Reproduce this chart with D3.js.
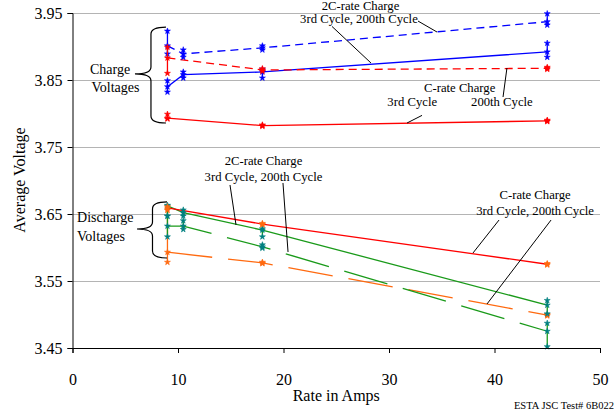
<!DOCTYPE html>
<html>
<head>
<meta charset="utf-8">
<script src="https://cdn.jsdelivr.net/npm/d3@7"></script>
<style>
  body { margin: 0; background: #fff; }
  svg { display: block; font-family: "Liberation Serif", "Times New Roman", Times, "DejaVu Serif", serif; }
</style>
</head>
<body>
<div id="chart"></div>
<script>
// rates (amps) used in the test
var rates2C = [9, 10.5, 18, 45];
var ratesC = [9, 18, 45];

// charge voltages: mean, low, high
var charge2C200 = [3.901, 3.889, 3.898, 3.937];
var charge2C200Lo = [3.889, 3.884, 3.895, 3.932];
var charge2C200Hi = [3.923, 3.895, 3.901, 3.949];

var charge2C3 = [3.840, 3.858, 3.862, 3.892];
var charge2C3Lo = [3.832, 3.853, 3.853, 3.884];
var charge2C3Hi = [3.849, 3.862, 3.866, 3.905];

var chargeC200 = [3.883, 3.865, 3.8675];
var chargeC200Lo = [3.860, 3.863, 3.866];
var chargeC200Hi = [3.899, 3.867, 3.869];

var chargeC3 = [3.793, 3.782, 3.789];
var chargeC3Lo = [3.792, 3.781, 3.788];
var chargeC3Hi = [3.799, 3.783, 3.790];

// discharge voltages: mean, low, high
var dis2C3 = [3.662, 3.652, 3.626, 3.514];
var dis2C3Lo = [3.647, 3.647, 3.616, 3.501];
var dis2C3Hi = [3.663, 3.656, 3.628, 3.521];

var dis2C200 = [3.632, 3.632, 3.601, 3.475];
var dis2C200Lo = [3.616, 3.627, 3.599, 3.452];
var dis2C200Hi = [3.647, 3.640, 3.604, 3.487];

var disC3 = [3.659, 3.635, 3.575];
var disC3Lo = [3.656, 3.634, 3.574];
var disC3Hi = [3.661, 3.636, 3.576];

var disC200 = [3.593, 3.577, 3.499];
var disC200Lo = [3.578, 3.576, 3.498];
var disC200Hi = [3.656, 3.578, 3.500];

// axis ticks
var xTicks = [0, 10, 20, 30, 40, 50];
var yTicks = [3.45, 3.55, 3.65, 3.75, 3.85, 3.95];

// callout texts and leader lines, in data units (amps, volts)
var labels = [
  { t: "2C-rate Charge", x: 27.3, y: 3.9545, a: "middle" },
  { t: "3rd Cycle, 200th Cycle", x: 27.15, y: 3.935, a: "middle" },
  { t: "C-rate Charge", x: 36.7, y: 3.832, a: "middle" },
  { t: "3rd Cycle", x: 32.2, y: 3.811, a: "middle" },
  { t: "200th Cycle", x: 40.7, y: 3.811, a: "middle" },
  { t: "2C-rate Charge", x: 18.1, y: 3.723, a: "middle" },
  { t: "3rd Cycle, 200th Cycle", x: 18.1, y: 3.699, a: "middle" },
  { t: "C-rate Charge", x: 43.85, y: 3.672, a: "middle" },
  { t: "3rd Cycle, 200th Cycle", x: 43.85, y: 3.6485, a: "middle" }
];
var groupLabels = [
  { t: "Charge", x: 1.66, y: 3.859 },
  { t: "Voltages", x: 1.8, y: 3.832 },
  { t: "Discharge", x: 0.43, y: 3.638 },
  { t: "Voltages", x: 0.43, y: 3.61 }
];
var leaders = [
  [32.75, 3.938, 34.55, 3.9216],
  [24.6, 3.9299, 28.29, 3.8754],
  [33.13, 3.7972, 31.71, 3.7858],
  [40.81, 3.8246, 41.18, 3.8679],
  [14.93, 3.6933, 15.5, 3.6336],
  [19.95, 3.6963, 20.43, 3.5933],
  [40.43, 3.641, 37.96, 3.5918],
  [45.36, 3.641, 39.29, 3.5157]
];
// braces: end x, tip x, top, tip, bottom
var braces = [
  [8.86, 5.92, 3.929, 3.859, 3.7858],
  [8.96, 6.11, 3.668, 3.6276, 3.5843]
];

var blue = "#0000ff", red = "#ff0000", green = "#1a9a1a", orange = "#ff6a10", teal = "#008080";
var shortDash = "8,5", longDash = "45,16";

var series = [
  { x: rates2C, y: charge2C200, lo: charge2C200Lo, hi: charge2C200Hi, line: blue, mark: blue, bar: blue, dash: shortDash },
  { x: rates2C, y: charge2C3, lo: charge2C3Lo, hi: charge2C3Hi, line: blue, mark: blue, bar: blue, dash: null },
  { x: ratesC, y: chargeC200, lo: chargeC200Lo, hi: chargeC200Hi, line: red, mark: red, bar: red, dash: shortDash },
  { x: ratesC, y: chargeC3, lo: chargeC3Lo, hi: chargeC3Hi, line: red, mark: red, bar: red, dash: null },
  { x: ratesC, y: disC200, lo: disC200Lo, hi: disC200Hi, line: orange, mark: orange, bar: orange, dash: longDash },
  { x: rates2C, y: dis2C200, lo: dis2C200Lo, hi: dis2C200Hi, line: green, mark: teal, bar: green, dash: longDash },
  { x: rates2C, y: dis2C3, lo: dis2C3Lo, hi: dis2C3Hi, line: green, mark: teal, bar: green, dash: null },
  { x: ratesC, y: disC3, lo: disC3Lo, hi: disC3Hi, line: red, mark: orange, bar: red, dash: null }
];

var width = 615, height = 411;
var serif = "'Liberation Serif', 'Times New Roman', Times, 'DejaVu Serif', serif";

var svg = d3.select("#chart")
  .append("svg")
  .attr("width", width)
  .attr("height", height)
  .attr("font-family", serif);

var x = d3.scaleLinear().domain([0, 50]).range([72.5, 600]);
var y = d3.scaleLinear().domain([3.45, 3.95]).range([348, 13]);

// grid
svg.append("g")
  .selectAll("line")
  .data(yTicks.slice(1))
  .enter().append("line")
  .attr("x1", x(0)).attr("x2", x(50))
  .attr("y1", function(d) { return Math.round(y(d)) + 0.5; })
  .attr("y2", function(d) { return Math.round(y(d)) + 0.5; })
  .attr("stroke", "#b4b4b4")
  .attr("stroke-width", 1);

var line = d3.line()
  .x(function(d) { return x(d[0]); })
  .y(function(d) { return y(d[1]); });

var marker = d3.symbol().type(d3.symbolStar).size(11);

series.forEach(function(s) {
  var pts = s.x.map(function(v, i) { return [v, s.y[i]]; });
  svg.append("path")
    .datum(pts)
    .attr("fill", "none")
    .attr("stroke", s.line)
    .attr("stroke-width", 1.3)
    .attr("stroke-dasharray", s.dash)
    .attr("d", line);
});

series.forEach(function(s) {
  var g = svg.append("g");
  s.x.forEach(function(v, i) {
    g.append("line")
      .attr("x1", x(v)).attr("x2", x(v))
      .attr("y1", y(s.lo[i])).attr("y2", y(s.hi[i]))
      .attr("stroke", s.bar)
      .attr("stroke-width", 1.3);
    [s.lo[i], s.hi[i], s.y[i]].forEach(function(w) {
      g.append("path")
        .attr("d", marker)
        .attr("transform", "translate(" + x(v) + "," + y(w) + ")")
        .attr("fill", s.mark)
        .attr("stroke", s.mark)
        .attr("stroke-width", 0.6);
    });
  });
});

// leader lines
svg.append("g")
  .selectAll("line")
  .data(leaders)
  .enter().append("line")
  .attr("x1", function(d) { return x(d[0]); })
  .attr("y1", function(d) { return y(d[1]); })
  .attr("x2", function(d) { return x(d[2]); })
  .attr("y2", function(d) { return y(d[3]); })
  .attr("stroke", "#000")
  .attr("stroke-width", 1);

// braces
braces.forEach(function(b) {
  var xe = x(b[0]), xt = x(b[1]), xm = (xe + xt) / 2 + 0.5;
  var yt = y(b[2]), ym = y(b[3]), yb = y(b[4]);
  var r = 7;
  var p = d3.path();
  p.moveTo(xe, yt);
  p.quadraticCurveTo(xm, yt, xm, yt + r);
  p.lineTo(xm, ym - r);
  p.quadraticCurveTo(xm, ym, xt, ym);
  p.quadraticCurveTo(xm, ym, xm, ym + r);
  p.lineTo(xm, yb - r);
  p.quadraticCurveTo(xm, yb, xe, yb);
  svg.append("path")
    .attr("d", p.toString())
    .attr("fill", "none")
    .attr("stroke", "#000")
    .attr("stroke-width", 1.2);
});

svg.append("g")
  .selectAll("text")
  .data(labels)
  .enter().append("text")
  .attr("x", function(d) { return x(d.x); })
  .attr("y", function(d) { return y(d.y); })
  .attr("text-anchor", function(d) { return d.a; })
  .attr("font-size", "12.7px")
  .attr("fill", "#000")
  .text(function(d) { return d.t; });

svg.append("g")
  .selectAll("text")
  .data(groupLabels)
  .enter().append("text")
  .attr("x", function(d) { return x(d.x); })
  .attr("y", function(d) { return y(d.y); })
  .attr("font-size", "14px")
  .attr("fill", "#000")
  .text(function(d) { return d.t; });

// axes
var yAxis = d3.axisLeft(y).tickValues(yTicks).tickFormat(d3.format(".2f")).tickSizeOuter(0).tickSize(5).tickPadding(5);
var xAxis = d3.axisBottom(x).tickValues(xTicks).tickFormat(d3.format("d")).tickSizeOuter(0).tickSize(5).tickPadding(21);

var gy = svg.append("g")
  .attr("transform", "translate(" + x(0) + ",0)")
  .call(yAxis);
var gx = svg.append("g")
  .attr("transform", "translate(0," + y(3.45) + ")")
  .call(xAxis);

[gx, gy].forEach(function(g) {
  g.attr("font-family", serif).attr("font-size", 16);
  g.selectAll("text").attr("fill", "#000");
  g.selectAll("line").attr("stroke", "#000");
  g.select(".domain").attr("stroke", "#000");
});

svg.append("text")
  .attr("transform", "translate(25," + 180 + ") rotate(-90)")
  .attr("text-anchor", "middle")
  .attr("font-size", "16px")
  .text("Average Voltage");

svg.append("text")
  .attr("x", (x(0) + x(50)) / 2)
  .attr("y", 401)
  .attr("text-anchor", "middle")
  .attr("font-size", "16px")
  .text("Rate in Amps");

svg.append("text")
  .attr("x", 614)
  .attr("y", 409)
  .attr("text-anchor", "end")
  .attr("font-size", "10.5px")
  .text("ESTA JSC Test# 6B022");
</script>
</body>
</html>
